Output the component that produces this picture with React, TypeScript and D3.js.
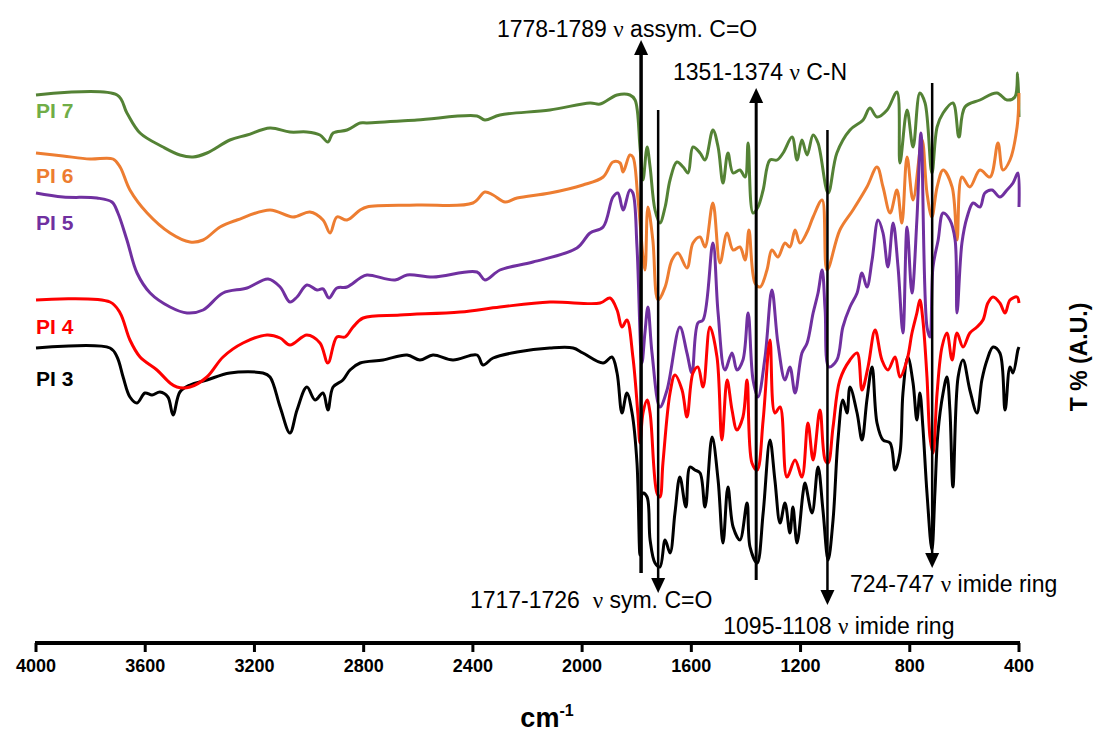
import { useRef, useEffect } from 'react'
import * as d3 from 'd3'

type Pt = [number, number]

// wavenumber (cm-1), transmittance (A.U.)
const pi7: Pt[] = [
  [4000, 548], [3703, 548], [3667, 530], [3619, 510], [3535, 496], [3473, 488], [3425, 486],
  [3374, 490], [3290, 503], [3227, 508], [3143, 515], [3070, 511], [3008, 511], [2960, 508],
  [2931, 501], [2912, 510], [2861, 513], [2813, 520], [2788, 520], [2605, 523], [2385, 527],
  [2356, 523], [2301, 528], [2118, 533], [1971, 540], [1934, 539], [1872, 548], [1825, 548],
  [1806, 543], [1788, 496], [1777, 463], [1762, 496], [1751, 476], [1733, 433], [1715, 420],
  [1696, 436], [1678, 463], [1653, 481], [1630, 476], [1612, 470], [1594, 496], [1568, 490],
  [1550, 483], [1521, 513], [1502, 496], [1484, 460], [1466, 490], [1447, 470], [1422, 473],
  [1403, 466], [1392, 500], [1374, 430], [1356, 436], [1337, 453], [1312, 483], [1286, 483],
  [1264, 490], [1231, 506], [1213, 483], [1195, 503], [1176, 488], [1154, 508], [1136, 500],
  [1099, 450], [1067, 490], [1019, 513], [971, 523], [946, 535], [920, 526], [883, 533],
  [847, 551], [836, 480], [810, 533], [788, 496], [763, 550], [744, 540], [719, 470],
  [700, 516], [678, 530], [642, 540], [620, 506], [598, 536], [543, 543], [481, 550],
  [444, 543], [415, 546], [405, 570], [400, 526],
]

const pi6: Pt[] = [
  [4000, 490], [3901, 487], [3802, 484], [3718, 484], [3692, 476], [3656, 453], [3593, 430],
  [3509, 410], [3436, 401], [3388, 403], [3326, 416], [3264, 423], [3143, 433], [3059, 426],
  [2997, 431], [2949, 423], [2923, 410], [2898, 426], [2861, 423], [2813, 433], [2788, 436],
  [2605, 438], [2400, 440], [2356, 451], [2326, 448], [2282, 441], [2238, 445], [2118, 450],
  [1997, 458], [1923, 466], [1887, 481], [1861, 480], [1850, 471], [1825, 488], [1814, 486],
  [1796, 446], [1770, 373], [1759, 436], [1741, 403], [1722, 343], [1696, 356], [1671, 383],
  [1649, 390], [1616, 375], [1594, 400], [1568, 406], [1550, 396], [1521, 440], [1495, 380],
  [1469, 410], [1447, 393], [1422, 396], [1403, 383], [1389, 413], [1367, 360], [1348, 356],
  [1323, 373], [1305, 393], [1283, 386], [1257, 400], [1239, 396], [1220, 413], [1202, 400],
  [1176, 411], [1154, 426], [1121, 443], [1103, 373], [1056, 413], [1008, 433], [957, 456],
  [920, 476], [898, 456], [872, 430], [847, 453], [829, 420], [810, 486], [788, 443],
  [755, 503], [737, 450], [719, 426], [700, 456], [678, 473], [645, 456], [627, 403],
  [609, 466], [580, 456], [543, 473], [506, 466], [477, 500], [459, 473], [433, 483],
  [407, 516], [400, 550],
]

const pi5: Pt[] = [
  [4000, 450], [3901, 446], [3777, 445], [3722, 441], [3700, 430], [3667, 403], [3630, 370],
  [3582, 350], [3509, 336], [3447, 330], [3388, 333], [3315, 350], [3227, 355], [3150, 364],
  [3106, 356], [3070, 341], [3044, 346], [3008, 358], [2971, 353], [2949, 354], [2927, 345],
  [2898, 355], [2861, 356], [2813, 365], [2788, 368], [2685, 363], [2641, 368], [2546, 366],
  [2385, 371], [2356, 363], [2301, 373], [2180, 381], [2019, 395], [1971, 410], [1923, 416],
  [1887, 446], [1869, 450], [1850, 433], [1825, 453], [1814, 450], [1799, 396], [1781, 280],
  [1770, 310], [1759, 336], [1744, 290], [1715, 236], [1689, 253], [1642, 316], [1616, 290],
  [1598, 270], [1576, 320], [1557, 323], [1521, 400], [1502, 330], [1477, 273], [1451, 290],
  [1433, 273], [1411, 283], [1392, 330], [1374, 263], [1356, 246], [1330, 286], [1305, 353],
  [1283, 300], [1257, 263], [1239, 276], [1220, 250], [1195, 290], [1176, 300], [1154, 330],
  [1136, 350], [1121, 373], [1110, 333], [1096, 276], [1067, 283], [1045, 316], [1019, 336],
  [993, 350], [975, 370], [957, 356], [938, 383], [916, 423], [898, 410], [880, 376],
  [861, 420], [843, 376], [825, 310], [810, 416], [792, 350], [774, 423], [759, 510],
  [737, 316], [726, 306], [715, 376], [696, 403], [678, 430], [653, 423], [634, 403],
  [627, 330], [609, 400], [590, 426], [568, 440], [543, 436], [525, 450], [499, 453],
  [470, 446], [444, 453], [422, 460], [404, 470], [400, 436],
]

const pi4: Pt[] = [
  [4000, 343], [3729, 341], [3692, 330], [3656, 303], [3619, 286], [3557, 273], [3509, 260],
  [3484, 256], [3436, 256], [3374, 266], [3315, 286], [3242, 300], [3154, 308], [3106, 305],
  [3070, 298], [3008, 308], [2960, 300], [2931, 280], [2898, 306], [2868, 306], [2839, 316],
  [2802, 325], [2667, 328], [2447, 331], [2301, 336], [2118, 341], [1934, 340], [1898, 345],
  [1872, 333], [1854, 316], [1836, 323], [1814, 286], [1796, 230], [1788, 200], [1777, 230],
  [1762, 243], [1751, 230], [1726, 150], [1715, 146], [1704, 180], [1678, 250], [1660, 268],
  [1634, 253], [1616, 226], [1594, 270], [1576, 276], [1557, 256], [1532, 316], [1506, 286],
  [1488, 203], [1469, 263], [1451, 233], [1433, 213], [1411, 226], [1396, 263], [1378, 180],
  [1359, 173], [1337, 223], [1312, 303], [1294, 230], [1275, 236], [1250, 166], [1220, 183],
  [1195, 166], [1173, 220], [1154, 183], [1129, 233], [1110, 183], [1099, 180], [1081, 216],
  [1056, 263], [1019, 283], [993, 290], [975, 253], [953, 276], [927, 313], [902, 283],
  [880, 273], [854, 286], [836, 266], [810, 283], [792, 310], [774, 330], [763, 343],
  [752, 323], [737, 266], [726, 206], [715, 190], [700, 250], [682, 296], [664, 310],
  [645, 283], [627, 310], [605, 296], [580, 310], [554, 316], [532, 323], [514, 340],
  [495, 346], [470, 340], [451, 330], [433, 343], [407, 346], [400, 340],
]

const pi3: Pt[] = [
  [4000, 295], [3729, 295], [3703, 286], [3681, 266], [3656, 246], [3630, 240], [3601, 250],
  [3575, 248], [3546, 251], [3517, 246], [3498, 228], [3473, 251], [3436, 258], [3374, 263],
  [3290, 270], [3169, 270], [3143, 266], [3106, 236], [3070, 210], [3044, 233], [3008, 256],
  [2978, 243], [2949, 250], [2931, 233], [2912, 256], [2876, 263], [2850, 273], [2813, 280],
  [2729, 283], [2641, 288], [2594, 283], [2546, 288], [2473, 283], [2385, 288], [2363, 278],
  [2326, 285], [2238, 291], [2118, 295], [2033, 295], [1997, 290], [1923, 280], [1891, 286],
  [1872, 270], [1854, 230], [1836, 250], [1817, 230], [1799, 180], [1788, 88], [1777, 150],
  [1762, 146], [1751, 103], [1733, 80], [1715, 76], [1696, 103], [1678, 90], [1660, 130],
  [1642, 166], [1620, 136], [1605, 176], [1587, 173], [1568, 170], [1550, 136], [1524, 206],
  [1502, 163], [1484, 100], [1466, 156], [1447, 116], [1422, 103], [1396, 140], [1385, 96],
  [1359, 80], [1337, 130], [1312, 203], [1294, 163], [1275, 120], [1257, 140], [1239, 110],
  [1228, 136], [1213, 100], [1191, 150], [1184, 160], [1158, 130], [1136, 176], [1118, 133],
  [1099, 83], [1081, 123], [1063, 203], [1045, 243], [1030, 230], [1019, 256], [993, 230],
  [975, 203], [957, 243], [938, 276], [920, 220], [898, 203], [872, 200], [854, 173],
  [836, 190], [825, 250], [807, 286], [788, 260], [774, 223], [763, 250], [752, 216],
  [737, 150], [719, 93], [708, 150], [697, 210], [678, 250], [664, 266], [653, 233],
  [642, 156], [623, 266], [605, 283], [580, 253], [554, 230], [536, 263], [517, 283],
  [495, 296], [470, 290], [451, 233], [433, 276], [422, 270], [404, 293], [400, 296],
]

const seriesNames = ['PI 7', 'PI 6', 'PI 5', 'PI 3', 'PI 4']
const seriesData = [pi7, pi6, pi5, pi3, pi4]
const lineColors = ['#548235', '#ed7d31', '#7030a0', '#000000', '#ff0000']
const labelColors = ['#70ad47', '#ed7d31', '#7030a0', '#000000', '#ff0000']
// label baseline in T units, at the left edge
const labelLevels = [525, 460, 413, 257, 309]

const wavenumberTicks = [4000, 3600, 3200, 2800, 2400, 2000, 1600, 1200, 800, 400]

// band assignments: wavenumber, arrow tail T, arrow tip T
const bandWave = [1784, 1721.5, 1362.5, 1101.5, 718]
const bandTail = [70, 533, 63, 513, 560]
const bandTip = [603, 50, 555, 38, 75]
const bandWidth = [3.5, 2.5, 3, 2.5, 2.5]
const bandText = [
  ['1778-1789 ', ' assym. C=O'],
  ['1717-1726  ', ' sym. C=O'],
  ['1351-1374 ', ' C-N'],
  ['1095-1108 ', ' imide ring'],
  ['724-747 ', ' imide ring'],
]
// text anchor: wavenumber of text start, baseline T
const bandTextWave = [2312, 2411, 1667, 1483, 1019]
const bandTextLevel = [606, 35, 563, 9, 51]

const W = 1098
const H = 734

const App = () => {
  const svgRef = useRef<SVGSVGElement>(null)

  useEffect(() => {
    if (!svgRef.current) return
    const svg = d3.select(svgRef.current)
    svg.selectAll('*').remove()

    const x = d3.scaleLinear().domain([4000, 400]).range([36, 1019])
    const y = d3.scaleLinear().domain([0, 600]).range([643, 43])

    const line = d3.line<Pt>()
      .x(d => x(d[0]))
      .y(d => y(d[1]))
      .curve(d3.curveCatmullRom.alpha(0.5))

    svg.append('g')
      .selectAll('path')
      .data(seriesData)
      .join('path')
      .attr('d', d => line(d))
      .attr('fill', 'none')
      .attr('stroke', (_, i) => lineColors[i])
      .attr('stroke-width', 3)
      .attr('stroke-linejoin', 'round')

    svg.append('g')
      .selectAll('text')
      .data(seriesNames)
      .join('text')
      .attr('x', x(4000))
      .attr('y', (_, i) => y(labelLevels[i]))
      .attr('fill', (_, i) => labelColors[i])
      .attr('font-family', 'Liberation Sans, Arial, sans-serif')
      .attr('font-weight', 'bold')
      .attr('font-size', '21px')
      .text(d => d)

    // band arrows
    const arrows = svg.append('g')
    bandWave.forEach((w, i) => {
      const ax = x(w)
      const tail = y(bandTail[i])
      const tip = y(bandTip[i])
      const dir = tip < tail ? 1 : -1
      const headLen = 15
      arrows.append('line')
        .attr('x1', ax).attr('x2', ax)
        .attr('y1', tail).attr('y2', tip + dir * headLen)
        .attr('stroke', '#000')
        .attr('stroke-width', bandWidth[i])
      arrows.append('path')
        .attr('d', `M${ax},${tip}L${ax - 7},${tip + dir * headLen}L${ax + 7},${tip + dir * headLen}Z`)
        .attr('fill', '#000')

      const t = arrows.append('text')
        .attr('x', x(bandTextWave[i]))
        .attr('y', y(bandTextLevel[i]))
        .attr('font-family', 'Liberation Sans, Arial, sans-serif')
        .attr('font-size', '23px')
        .attr('fill', '#000')
        .style('white-space', 'pre')
      t.append('tspan').text(bandText[i][0])
      t.append('tspan').attr('font-family', 'Liberation Serif, Times New Roman, serif').text('ν')
      t.append('tspan').text(bandText[i][1])
    })

    // x axis
    const axis = svg.append('g')
    axis.append('line')
      .attr('x1', x(4000) - 1).attr('x2', x(400) + 1)
      .attr('y1', y(0)).attr('y2', y(0))
      .attr('stroke', '#000')
      .attr('stroke-width', 4)
    axis.selectAll('.tick')
      .data(wavenumberTicks)
      .join('line')
      .attr('class', 'tick')
      .attr('x1', d => x(d)).attr('x2', d => x(d))
      .attr('y1', y(0)).attr('y2', y(0) + 9)
      .attr('stroke', '#000')
      .attr('stroke-width', 3)
    axis.selectAll('.tlabel')
      .data(wavenumberTicks)
      .join('text')
      .attr('class', 'tlabel')
      .attr('x', d => x(d))
      .attr('y', y(0) + 29)
      .attr('text-anchor', 'middle')
      .attr('font-family', 'Liberation Sans, Arial, sans-serif')
      .attr('font-weight', 'bold')
      .attr('font-size', '18px')
      .text(d => d)

    const xt = svg.append('text')
      .attr('x', 547)
      .attr('y', 727)
      .attr('text-anchor', 'middle')
      .attr('font-family', 'Liberation Sans, Arial, sans-serif')
      .attr('font-weight', 'bold')
      .attr('font-size', '27px')
    xt.append('tspan').text('cm')
    xt.append('tspan').attr('font-size', '16px').attr('dy', '-11').text('-1')

    svg.append('text')
      .attr('transform', 'translate(1087,357) rotate(-90)')
      .attr('text-anchor', 'middle')
      .attr('font-family', 'Liberation Sans, Arial, sans-serif')
      .attr('font-weight', 'bold')
      .attr('font-size', '23px')
      .text('T % (A.U.)')
  }, [])

  return (
    <svg
      ref={svgRef}
      width={W}
      height={H}
      style={{ position: 'absolute', left: 0, top: 0, background: '#fff' }}
    />
  )
}

export default App
